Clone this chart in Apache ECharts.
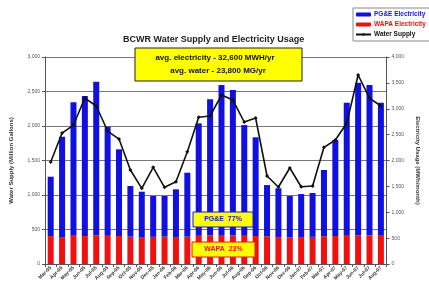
<!DOCTYPE html>
<html>
<head>
<meta charset="utf-8">
<script src="https://cdn.jsdelivr.net/npm/echarts@6/dist/echarts.min.js"></script>
<style>
  html, body { margin: 0; padding: 0; background: #fff; }
  #chart { width: 429px; height: 287px; }
</style>
</head>
<body>
<div id="chart"></div>
<script>
// months on the x axis
const months = [
  "Mar-05", "Apr-05", "May-05", "Jun-05", "Jul-05", "Aug-05", "Sep-05", "Oct-05",
  "Nov-05", "Dec-05", "Jan-06", "Feb-06", "Mar-06", "Apr-06", "May-06", "Jun-06",
  "Jul-06", "Aug-06", "Sep-06", "Oct-06", "Nov-06", "Dec-06", "Jan-07", "Feb-07",
  "Mar-07", "Apr-07", "May-07", "Jun-07", "Jul-07", "Aug-07",
];
// electricity, MWh (stacked: WAPA at the bottom, PG&E on top)
const wapaElec = [
  540, 520, 545, 540, 550, 545, 540, 530, 520, 525, 530, 520, 530, 545, 550,
  545, 550, 545, 540, 535, 520, 515, 520, 525, 535, 540, 545, 550, 550, 545,
];
const pgeElec = [
  1147, 1939, 2579, 2706, 2972, 2108, 1676, 977, 877, 789, 784, 923, 1234, 2173, 2632,
  2913, 2812, 2140, 1908, 991, 943, 799, 832, 847, 1281, 1856, 2571, 2953, 2908, 2571,
];
// water supply, million gallons
const waterSupply = [
  1478, 1898, 2014, 2405, 2290, 1927, 1811, 1362, 1097, 1401, 1111, 1193, 1627, 2126, 2145,
  2449, 2376, 2058, 2116, 1275, 1116, 1391, 1120, 1130, 1691, 1797, 2039, 2739, 2405, 2290,
];
const leftTicks = { min: 0, max: 3000, step: 500 };
const rightTicks = { min: 0, max: 4000, step: 500 };

const font = "Liberation Sans";
const fmt = (v) => v.toLocaleString("en-US");

const chart = echarts.init(document.getElementById("chart"));
chart.setOption({
  backgroundColor: "#fff",
  animation: false,
  textStyle: { fontFamily: font },
  title: {
    text: "BCWR Water Supply and Electricity Usage",
    left: 118,
    top: 30,
    textStyle: { fontSize: 9, fontWeight: "bold", color: "#222", fontFamily: font },
  },
  legend: {
    orient: "vertical",
    left: 353,
    top: 8,
    itemGap: 3,
    itemWidth: 15,
    itemHeight: 4,
    padding: [3, 20, 3, 2],
    backgroundColor: "#fff",
    borderColor: "#888",
    borderWidth: 1,
    textStyle: { fontSize: 6.5, fontWeight: "bold", fontFamily: font, padding: [0, 0, 0, -2] },
    data: [
      { name: "PG&E Electricity", textStyle: { color: "#1414E6" } },
      { name: "WAPA Electricity", textStyle: { color: "#F01010" } },
      { name: "Water Supply", textStyle: { color: "#111" } },
    ],
  },
  grid: { left: 43, right: 42, top: 57, bottom: 23, containLabel: false },
  xAxis: {
    type: "category",
    data: months,
    axisLine: { lineStyle: { color: "#555", width: 1 } },
    axisTick: { show: true, alignWithLabel: false, length: 3, lineStyle: { color: "#555" } },
    axisLabel: {
      interval: 0,
      rotate: 45,
      fontSize: 5,
      fontWeight: "bold",
      color: "#333",
      margin: 3,
    },
  },
  yAxis: [
    {
      type: "value",
      min: leftTicks.min,
      max: leftTicks.max,
      interval: leftTicks.step,
      name: "Water Supply (Million Gallons)",
      nameLocation: "middle",
      nameRotate: 90,
      nameGap: 31,
      nameTextStyle: { fontSize: 6, fontWeight: "bold", color: "#333", fontFamily: font },
      axisLine: { show: true, lineStyle: { color: "#555" } },
      axisTick: { show: true, length: 3, lineStyle: { color: "#555" } },
      axisLabel: { fontSize: 5, color: "#555", margin: 5, formatter: fmt },
      splitLine: { show: true, lineStyle: { color: "#777", width: 1 } },
    },
    {
      type: "value",
      min: rightTicks.min,
      max: rightTicks.max,
      interval: rightTicks.step,
      position: "right",
      name: "Electricity Usage (MWh/month)",
      nameLocation: "middle",
      nameRotate: -90,
      nameGap: 22,
      nameTextStyle: { fontSize: 6, fontWeight: "bold", color: "#333", fontFamily: font },
      axisLine: { show: true, lineStyle: { color: "#555" } },
      axisTick: { show: true, length: 3, lineStyle: { color: "#555" } },
      axisLabel: { fontSize: 5, color: "#555", margin: 5, formatter: fmt },
      splitLine: { show: false },
    },
  ],
  series: [
    {
      name: "WAPA Electricity",
      type: "bar",
      stack: "elec",
      yAxisIndex: 1,
      barWidth: 6,
      itemStyle: { color: "#F01010" },
      data: wapaElec,
    },
    {
      name: "PG&E Electricity",
      type: "bar",
      stack: "elec",
      yAxisIndex: 1,
      barWidth: 6,
      itemStyle: { color: "#1010E0" },
      data: pgeElec,
    },
    {
      name: "Water Supply",
      type: "line",
      yAxisIndex: 0,
      symbol: "diamond",
      symbolSize: 4,
      z: 5,
      lineStyle: { color: "#111", width: 1.6 },
      itemStyle: { color: "#111" },
      data: waterSupply,
    },
  ],
  graphic: [
    {
      type: "rect",
      z: 100,
      shape: { x: 135, y: 48, width: 167, height: 33 },
      style: { fill: "#FFFF00", stroke: "#222", lineWidth: 1 },
    },
    {
      type: "text",
      z: 101,
      x: 215,
      y: 58,
      style: {
        text: "avg. electricity - 32,600 MWH/yr",
        fill: "#111",
        font: "bold 8px " + font,
        align: "center",
        verticalAlign: "middle",
      },
    },
    {
      type: "text",
      z: 101,
      x: 218,
      y: 71,
      style: {
        text: "avg. water - 23,800 MG/yr",
        fill: "#111",
        font: "bold 8px " + font,
        align: "center",
        verticalAlign: "middle",
      },
    },
    {
      type: "rect",
      z: 100,
      shape: { x: 193, y: 212, width: 60, height: 15 },
      style: { fill: "#FFFF00", stroke: "#1414E6", lineWidth: 1 },
    },
    {
      type: "text",
      z: 101,
      x: 223,
      y: 219.5,
      style: {
        text: "PG&E  77%",
        fill: "#1414E6",
        font: "bold 7px " + font,
        align: "center",
        verticalAlign: "middle",
      },
    },
    {
      type: "rect",
      z: 100,
      shape: { x: 192, y: 242, width: 63, height: 15 },
      style: { fill: "#FFFF00", stroke: "#F01010", lineWidth: 1 },
    },
    {
      type: "text",
      z: 101,
      x: 223.5,
      y: 249.5,
      style: {
        text: "WAPA  23%",
        fill: "#F01010",
        font: "bold 7px " + font,
        align: "center",
        verticalAlign: "middle",
      },
    },
  ],
});
</script>
</body>
</html>
